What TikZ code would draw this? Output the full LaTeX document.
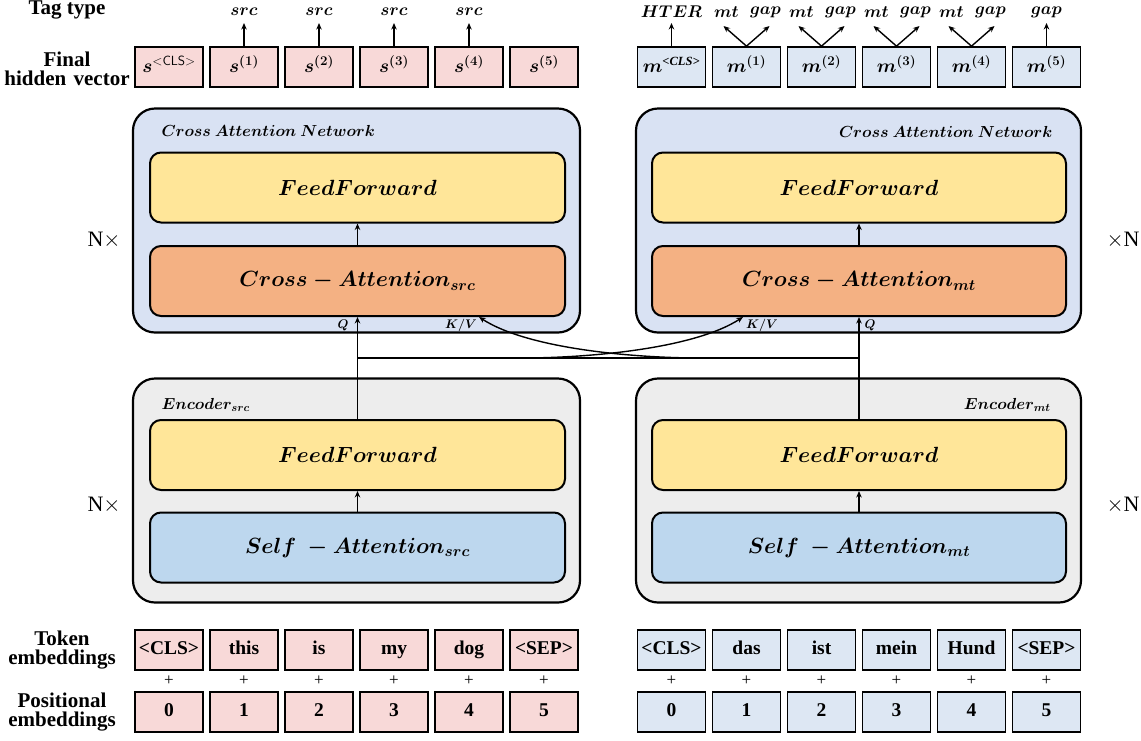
\RequirePackage{fix-cm}
\documentclass[tikz,border=0pt]{standalone}
\usepackage{amsmath}
\usepackage{fontspec}
\setmainfont{Liberation Serif}
\usetikzlibrary{arrows.meta}

\definecolor{tokpink}{HTML}{F8D9D8}
\definecolor{tokblue}{HTML}{DDE7F3}
\definecolor{crossbg}{HTML}{D9E2F3}
\definecolor{encbg}{HTML}{EDEDED}
\definecolor{ffyellow}{HTML}{FFE699}
\definecolor{caorange}{HTML}{F4B183}
\definecolor{sablue}{HTML}{BDD7EE}

\newcommand{\bmi}[1]{{\boldmath$#1$}}
\newcommand{\fsz}[2]{\fontsize{#1}{#2}\selectfont}
\newcommand{\clssup}{\mbox{\fsz{12.5}{13}\bfseries\itshape <CLS>}}

\begin{document}
\begin{tikzpicture}[x=1pt,y=-1pt,
  tok/.style={draw, line width=1.7pt, minimum width=68pt, minimum height=40pt, inner sep=0pt,
              text height=13pt, text depth=4pt, font=\fsz{19.5}{21}\bfseries},
  vec/.style={tok, text height=15pt, text depth=5pt, font=\fsz{19}{21}},
  outerbox/.style={draw, line width=2.2pt, rounded corners=22pt, minimum height=224pt, inner sep=0pt},
  layer/.style={draw, line width=2pt, rounded corners=11pt, minimum height=70pt, inner sep=0pt, font=\fsz{22}{24}},
  arr/.style={-{Stealth[length=6.5pt,width=5.5pt]}, line width=1.4pt},
  sidelbl/.style={font=\fsz{21}{19}\bfseries, align=center},
  tag/.style={font=\fsz{17}{19}},
  blocklbl/.style={font=\fsz{16}{18}},
  reps/.style={font=\fsz{22}{24}},
  qkv/.style={font=\fsz{12.5}{14}},
  plus/.style={font=\fsz{17}{19}},
  ]
\useasboundingbox (0,0) rectangle (1141,740);

% ---------- side labels ----------
\node[sidelbl] (lbltag) at (67,10) {Tag type};
\node[sidelbl] (lblfinal) at (67,69) {Final\\hidden\hspace{0.35em}vector};
\node[sidelbl] (lbltok) at (62,650) {Token\\embeddings};
\node[sidelbl] (lblpos) at (62,712) {Positional\\embeddings};

\node[reps] (repL1) at (104,240) {N$\times$};
\node[reps] (repL2) at (104,505) {N$\times$};
\node[reps] (repR1) at (1123,240) {$\times$N};
\node[reps] (repR2) at (1123,505) {$\times$N};

% ---------- cross attention networks ----------
\node[outerbox, fill=crossbg, minimum width=447pt] (crossL) at (356.5,220.5) {};
\node[outerbox, fill=crossbg, minimum width=445pt] (crossR) at (858.5,220.5) {};
\node[blocklbl, anchor=west] (crossLlbl) at (158,131) {\bmi{Cross\ Attention\ Network}};
\node[blocklbl, anchor=east] (crossRlbl) at (1056,132) {\bmi{Cross\ Attention\ Network}};

\node[layer, fill=ffyellow, minimum width=415pt] (ffL) at (357.5,187.5) {\bmi{FeedForward}};
\node[layer, fill=caorange, minimum width=415pt] (caL) at (357.5,281) {\bmi{Cross - Attention_{src}}};
\node[layer, fill=ffyellow, minimum width=414pt] (ffR) at (859,187.5) {\bmi{FeedForward}};
\node[layer, fill=caorange, minimum width=414pt] (caR) at (859,281) {\bmi{Cross - Attention_{mt}}};

\draw[arr] (caL.north) -- (ffL.south);
\draw[arr] (caR.north) -- (ffR.south);

% ---------- encoders ----------
\node[outerbox, fill=encbg, minimum width=447pt] (encL) at (356.5,490.5) {};
\node[outerbox, fill=encbg, minimum width=445pt] (encR) at (858.5,490.5) {};
\node[blocklbl, anchor=west] (encLlbl) at (158,405) {\bmi{Encoder_{src}}};
\node[blocklbl, anchor=east] (encRlbl) at (1054,405) {\bmi{Encoder_{mt}}};

\node[layer, fill=ffyellow, minimum width=415pt] (effL) at (357.5,455) {\bmi{FeedForward}};
\node[layer, fill=sablue, minimum width=415pt] (saL) at (357.5,547.5) {\bmi{Self\ - Attention_{src}}};
\node[layer, fill=ffyellow, minimum width=414pt] (effR) at (859,455) {\bmi{FeedForward}};
\node[layer, fill=sablue, minimum width=414pt] (saR) at (859,547.5) {\bmi{Self\ - Attention_{mt}}};

\draw[arr] (saL.north) -- (effL.south);
\draw[arr] (saR.north) -- (effR.south);

% ---------- encoder outputs into the cross attention ----------
\coordinate (jL) at (357.5,358);
\coordinate (jR) at (859,358);
\coordinate (kvL) at (479,317);
\coordinate (kvR) at (743,317);
\draw[arr] (effL.north) -- (caL.south);
\draw[arr] (effR.north) -- (caR.south);
\draw[line width=1.4pt] (jL) -- (jR);
\coordinate (bendA) at (700,358);
\coordinate (bendB) at (522,358);
\draw[arr] (bendA) .. controls (640,358) and (530,350) .. (kvL);
\draw[arr] (bendB) .. controls (582,358) and (692,350) .. (kvR);

\node[qkv] (qL) at (343,325) {\bmi{Q}};
\node[qkv] (kvLlbl) at (461,325) {\bmi{K/V}};
\node[qkv] (kvRlbl) at (762,325) {\bmi{K/V}};
\node[qkv] (qR) at (870,325) {\bmi{Q}};

% ---------- final hidden vectors and tag types ----------
\foreach \i/\t in {0/{s^{\textsf{<CLS>}}},1/{s^{(1)}},2/{s^{(2)}},3/{s^{(3)}},4/{s^{(4)}},5/{s^{(5)}}}{
  \node[vec, fill=tokpink] (s\i) at (169+75*\i,67) {\bmi{\t}};
}
\foreach \i/\t in {0/{m^{\clssup}},1/{m^{(1)}},2/{m^{(2)}},3/{m^{(3)}},4/{m^{(4)}},5/{m^{(5)}}}{
  \node[vec, fill=tokblue] (m\i) at (671.5+75*\i,67) {\bmi{\t}};
}

\foreach \i in {1,2,3,4}{
  \coordinate (sTop\i) at (169+75*\i,23);
  \draw[arr] (s\i.north) -- (sTop\i);
  \node[tag] (sTag\i) at (169+75*\i,12) {\bmi{src}};
}

\coordinate (mTop0) at (671.5,23);
\draw[arr] (m0.north) -- (mTop0);
\node[tag] (mTag0) at (671.5,12) {\bmi{HTER}};
\foreach \i in {1,2,3,4}{
  \coordinate (mtEnd\i) at (671.5+75*\i-23,26);
  \coordinate (gapEnd\i) at (671.5+75*\i+23,26);
  \draw[arr] (m\i.north) -- (mtEnd\i);
  \draw[arr] (m\i.north) -- (gapEnd\i);
  \node[tag] (mtTag\i) at (671.5+75*\i-20,12) {\bmi{mt}};
  \node[tag] (gapTag\i) at (671.5+75*\i+19,12) {\bmi{gap}};
}
\coordinate (mTop5) at (1046.5,23);
\draw[arr] (m5.north) -- (mTop5);
\node[tag] (mTag5) at (1046.5,12) {\bmi{gap}};

% ---------- token and positional embeddings ----------
\foreach \i/\w in {0/{<CLS>},1/this,2/is,3/my,4/dog,5/{<SEP>}}{
  \node[tok, fill=tokpink] (srcTok\i) at (169+75*\i,650) {\w};
  \node[plus] (srcPlus\i) at (169+75*\i,681) {+};
  \node[tok, fill=tokpink] (srcPos\i) at (169+75*\i,712) {\i};
}
\foreach \i/\w in {0/{<CLS>},1/das,2/ist,3/mein,4/Hund,5/{<SEP>}}{
  \node[tok, fill=tokblue] (mtTok\i) at (671.5+75*\i,650) {\w};
  \node[plus] (mtPlus\i) at (671.5+75*\i,681) {+};
  \node[tok, fill=tokblue] (mtPos\i) at (671.5+75*\i,712) {\i};
}
\end{tikzpicture}
\end{document}
